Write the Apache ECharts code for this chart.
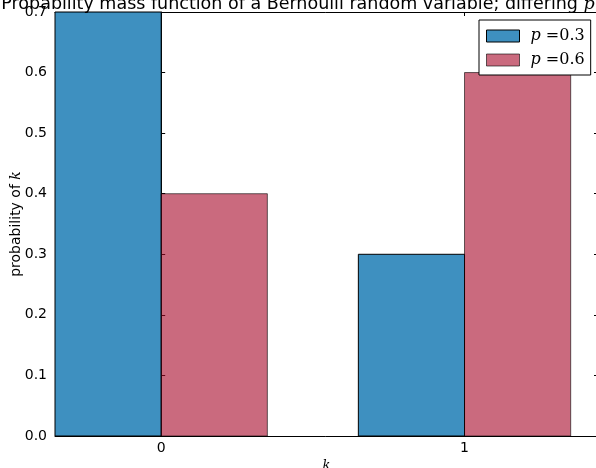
<!DOCTYPE html>
<html>
<head>
<meta charset="utf-8">
<script src="https://cdn.jsdelivr.net/npm/echarts@6/dist/echarts.min.js"></script>
<style>
  html, body { margin: 0; padding: 0; background: #fff; }
  #chart { width: 596px; height: 468px; }
</style>
</head>
<body>
<div id="chart"></div>
<script>
// Bernoulli pmf, two values of p
var ks = [0, 1];
var pLow = [0.7, 0.3];   // p = 0.3
var pHigh = [0.4, 0.6];  // p = 0.6
var seriesNames = ['p=0.3', 'p=0.6'];
var barW = 0.35;

var chart = echarts.init(document.getElementById('chart'));

// side: -1 -> bar to the left of k, +1 -> to the right
function barRender(side, fill, edge) {
  return function (params, api) {
    var k = api.value(0), v = api.value(1);
    var a = api.coord([side < 0 ? k - barW : k, v]);
    var b = api.coord([side < 0 ? k : k + barW, 0]);
    return {
      type: 'rect',
      shape: { x: a[0], y: a[1], width: b[0] - a[0], height: b[1] - a[1] },
      style: { fill: fill, stroke: edge, lineWidth: 1 }
    };
  };
}

var mathRich = {
  i: { fontFamily: 'DejaVu Serif', fontStyle: 'italic', fontSize: 16, color: '#000' },
  n: { fontFamily: 'DejaVu Serif', fontSize: 16, color: '#000' }
};

chart.setOption({
  animation: false,
  backgroundColor: '#fff',
  title: {
    text: 'Probability mass function of a Bernoulli random variable; differing {i|p}',
    left: 'center',
    top: -10,
    textStyle: {
      fontFamily: 'DejaVu Sans', fontSize: 17.5, fontWeight: 'normal', color: '#000',
      rich: { i: { fontFamily: 'DejaVu Serif', fontStyle: 'italic', fontSize: 17.5, color: '#000' } }
    }
  },
  legend: {
    orient: 'vertical',
    left: 479,
    top: 20,
    padding: [8, 6, 7, 7],
    itemGap: 8,
    itemWidth: 33,
    itemHeight: 12,
    backgroundColor: '#fff',
    borderColor: '#000',
    borderWidth: 1,
    borderRadius: 0,
    icon: 'rect',
    itemStyle: { borderWidth: 1 },
    data: seriesNames,
    formatter: function (name) {
      return '{i|p}{n| =' + name.split('=')[1] + '}';
    },
    textStyle: { padding: [0, 0, 0, 6], rich: mathRich }
  },
  grid: { left: 55, top: 12, right: -2, bottom: 32, containLabel: false, outerBoundsMode: 'none' },
  xAxis: [{
    type: 'value',
    min: -0.35,
    max: 1.44,
    name: '{i|k}',
    nameLocation: 'middle',
    nameGap: 23,
    nameMoveOverlap: false,
    nameTextStyle: { rich: { i: { fontFamily: 'DejaVu Serif', fontStyle: 'italic', fontSize: 13, color: '#000' } } },
    splitLine: { show: false },
    axisLine: { lineStyle: { color: '#000', width: 1 } },
    axisTick: { inside: true, length: 4, customValues: ks, lineStyle: { color: '#000' } },
    axisLabel: { customValues: ks, margin: 5, fontFamily: 'DejaVu Sans', fontSize: 14, color: '#000' }
  }, {
    type: 'value',
    position: 'top',
    min: -0.35,
    max: 1.44,
    splitLine: { show: false },
    axisLine: { onZero: false, lineStyle: { color: '#000', width: 1 } },
    axisTick: { inside: true, length: 4, customValues: ks, lineStyle: { color: '#000' } },
    axisLabel: { show: false }
  }],
  yAxis: [{
    type: 'value',
    min: 0,
    max: 0.7,
    interval: 0.1,
    name: 'probability of {i|k}',
    nameLocation: 'middle',
    nameRotate: 90,
    nameGap: 32,
    nameMoveOverlap: false,
    nameTextStyle: {
      fontFamily: 'DejaVu Sans', fontSize: 14, color: '#000',
      rich: { i: { fontFamily: 'DejaVu Serif', fontStyle: 'italic', fontSize: 14, color: '#000' } }
    },
    splitLine: { show: false },
    axisLine: { show: true, lineStyle: { color: '#000', width: 1 } },
    axisTick: { show: true, inside: true, length: 4, lineStyle: { color: '#000' } },
    axisLabel: {
      margin: 8, fontFamily: 'DejaVu Sans', fontSize: 14, color: '#000',
      formatter: function (v) { return v.toFixed(1); }
    }
  }, {
    type: 'value',
    position: 'right',
    min: 0,
    max: 0.7,
    interval: 0.1,
    splitLine: { show: false },
    axisLine: { show: true, onZero: false, lineStyle: { color: '#000', width: 1 } },
    axisTick: { show: true, inside: true, length: 4, lineStyle: { color: '#000' } },
    axisLabel: { show: false }
  }],
  series: [{
    name: seriesNames[0],
    type: 'custom',
    renderItem: barRender(-1, 'rgba(52,138,189,0.95)', '#000'),
    itemStyle: { color: 'rgb(62,144,192)', borderColor: '#000', borderWidth: 1 },
    encode: { x: 0, y: 1 },
    data: ks.map(function (k, i) { return [k, pLow[i]]; })
  }, {
    name: seriesNames[1],
    type: 'custom',
    renderItem: barRender(1, 'rgba(166,6,40,0.6)', 'rgba(0,0,0,0.6)'),
    itemStyle: { color: 'rgb(202,106,126)', borderColor: 'rgba(0,0,0,0.6)', borderWidth: 1 },
    encode: { x: 0, y: 1 },
    data: ks.map(function (k, i) { return [k, pHigh[i]]; })
  }]
});
</script>
</body>
</html>
